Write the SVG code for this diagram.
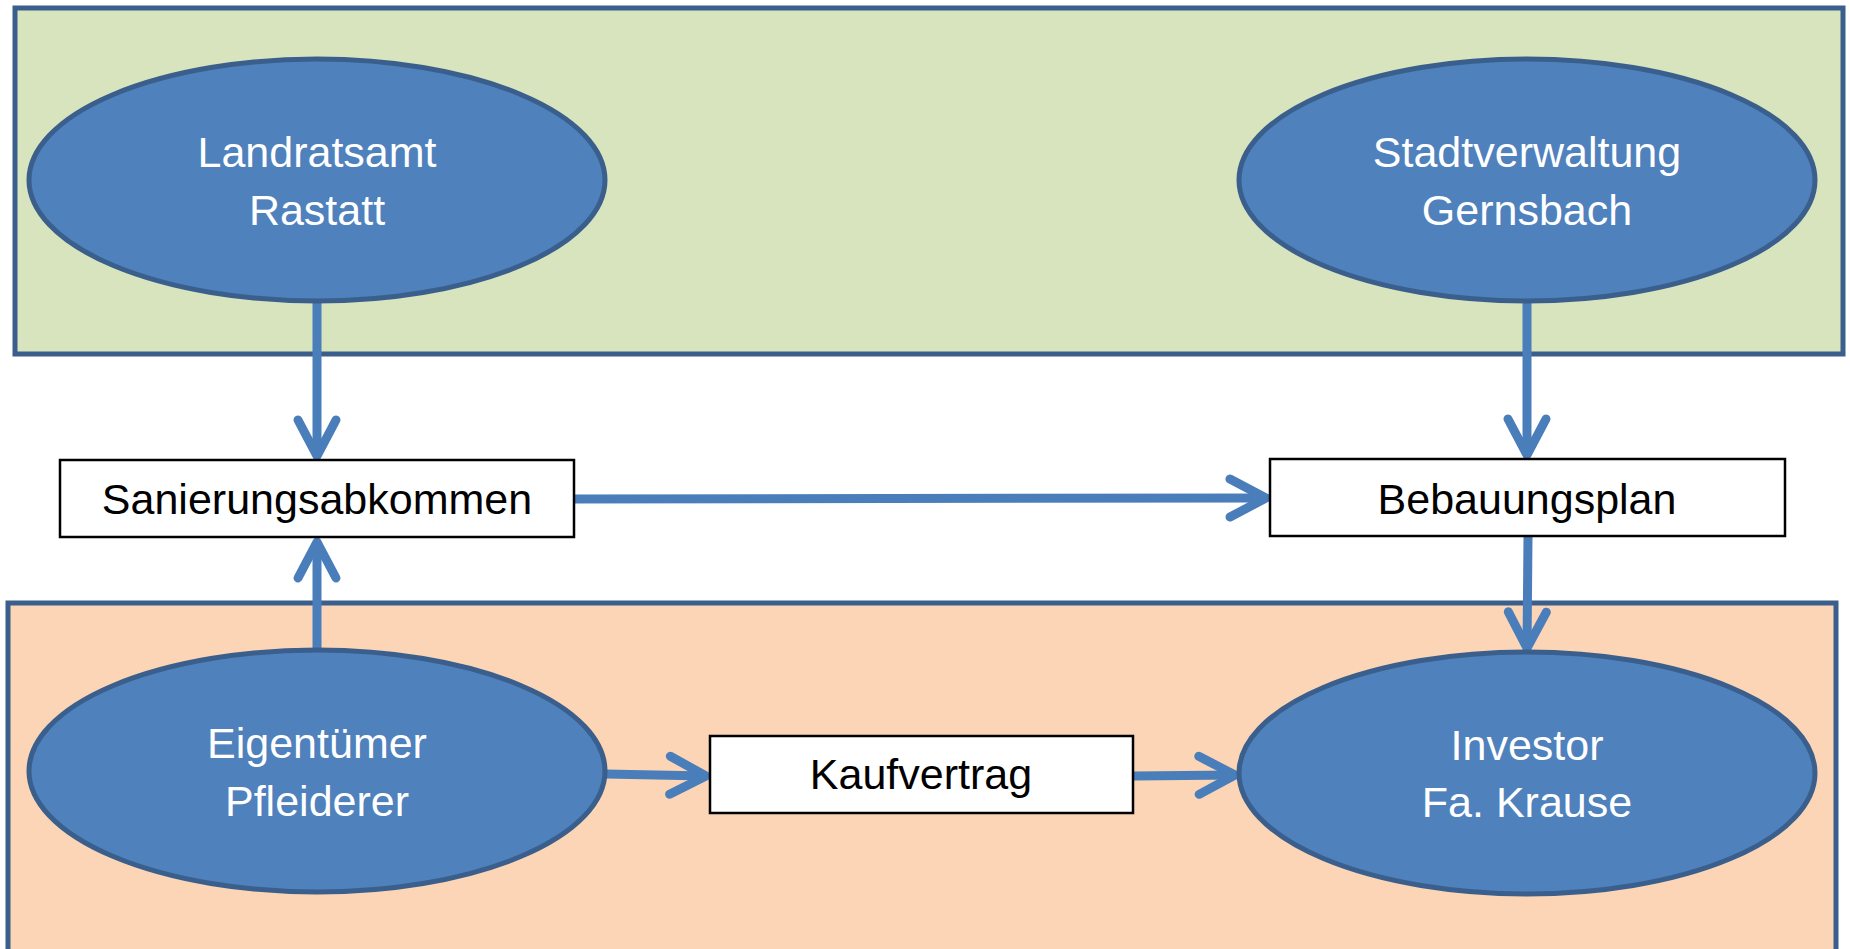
<svg xmlns="http://www.w3.org/2000/svg" width="1850" height="949" viewBox="0 0 1850 949">
<style>
.zone{stroke:#3A5F8C;stroke-width:5}
.oval{fill:#4F81BD;stroke:#3A5F8C;stroke-width:5}
.box{fill:#FFFFFF;stroke:#000000;stroke-width:2.5}
.wt{font-family:"Liberation Sans",Arial,sans-serif;font-size:43px;fill:#FFFFFF;text-anchor:middle}
.bt{font-family:"Liberation Sans",Arial,sans-serif;font-size:43px;fill:#000000;text-anchor:middle}
.conn{fill:none;stroke:#4A7EBB;stroke-width:9}
</style>
<defs>
<marker id="arr" viewBox="-45 -25 50 50" markerWidth="50" markerHeight="50" refX="0" refY="0" markerUnits="userSpaceOnUse" orient="auto" overflow="visible">
<path d="M -36 -19 L 0 0 L -36 19" fill="none" stroke="#4A7EBB" stroke-width="9" stroke-linecap="round" stroke-linejoin="round"/>
</marker>
</defs>
<rect width="1850" height="949" fill="#FFFFFF"/>
<g id="zone-top"><rect class="zone" x="15" y="8" width="1828" height="346" fill="#D7E4BD"/></g>
<g id="zone-bottom"><rect class="zone" x="8" y="603" width="1828" height="360" fill="#FBD5B5"/></g>
<g id="connectors">
<line class="conn" x1="317" y1="302" x2="317" y2="456" marker-end="url(#arr)"/>
<line class="conn" x1="317" y1="650" x2="317" y2="542" marker-end="url(#arr)"/>
<line class="conn" x1="574" y1="499" x2="1266" y2="498" marker-end="url(#arr)"/>
<line class="conn" x1="1527" y1="302" x2="1527" y2="455" marker-end="url(#arr)"/>
<line class="conn" x1="1528" y1="537" x2="1527" y2="648" marker-end="url(#arr)"/>
<line class="conn" x1="606" y1="774" x2="706" y2="776" marker-end="url(#arr)"/>
<line class="conn" x1="1134" y1="776" x2="1235" y2="775" marker-end="url(#arr)"/>
</g>
<g id="landratsamt">
<ellipse class="oval" cx="317" cy="180" rx="288" ry="121"/>
<text class="wt" x="317" y="167">Landratsamt</text>
<text class="wt" x="317" y="225">Rastatt</text>
</g>
<g id="stadtverwaltung">
<ellipse class="oval" cx="1527" cy="180" rx="288" ry="121"/>
<text class="wt" x="1527" y="167">Stadtverwaltung</text>
<text class="wt" x="1527" y="225">Gernsbach</text>
</g>
<g id="sanierungsabkommen">
<rect class="box" x="60" y="460" width="514" height="77"/>
<text class="bt" x="317" y="514">Sanierungsabkommen</text>
</g>
<g id="bebauungsplan">
<rect class="box" x="1270" y="459" width="515" height="77"/>
<text class="bt" x="1527" y="514">Bebauungsplan</text>
</g>
<g id="eigentuemer">
<ellipse class="oval" cx="317" cy="771" rx="288" ry="121"/>
<text class="wt" x="317" y="758">Eigentümer</text>
<text class="wt" x="317" y="816">Pfleiderer</text>
</g>
<g id="kaufvertrag">
<rect class="box" x="710" y="736" width="423" height="77"/>
<text class="bt" x="921" y="789">Kaufvertrag</text>
</g>
<g id="investor">
<ellipse class="oval" cx="1527" cy="773" rx="288" ry="121"/>
<text class="wt" x="1527" y="760">Investor</text>
<text class="wt" x="1527" y="817">Fa. Krause</text>
</g>
</svg>
